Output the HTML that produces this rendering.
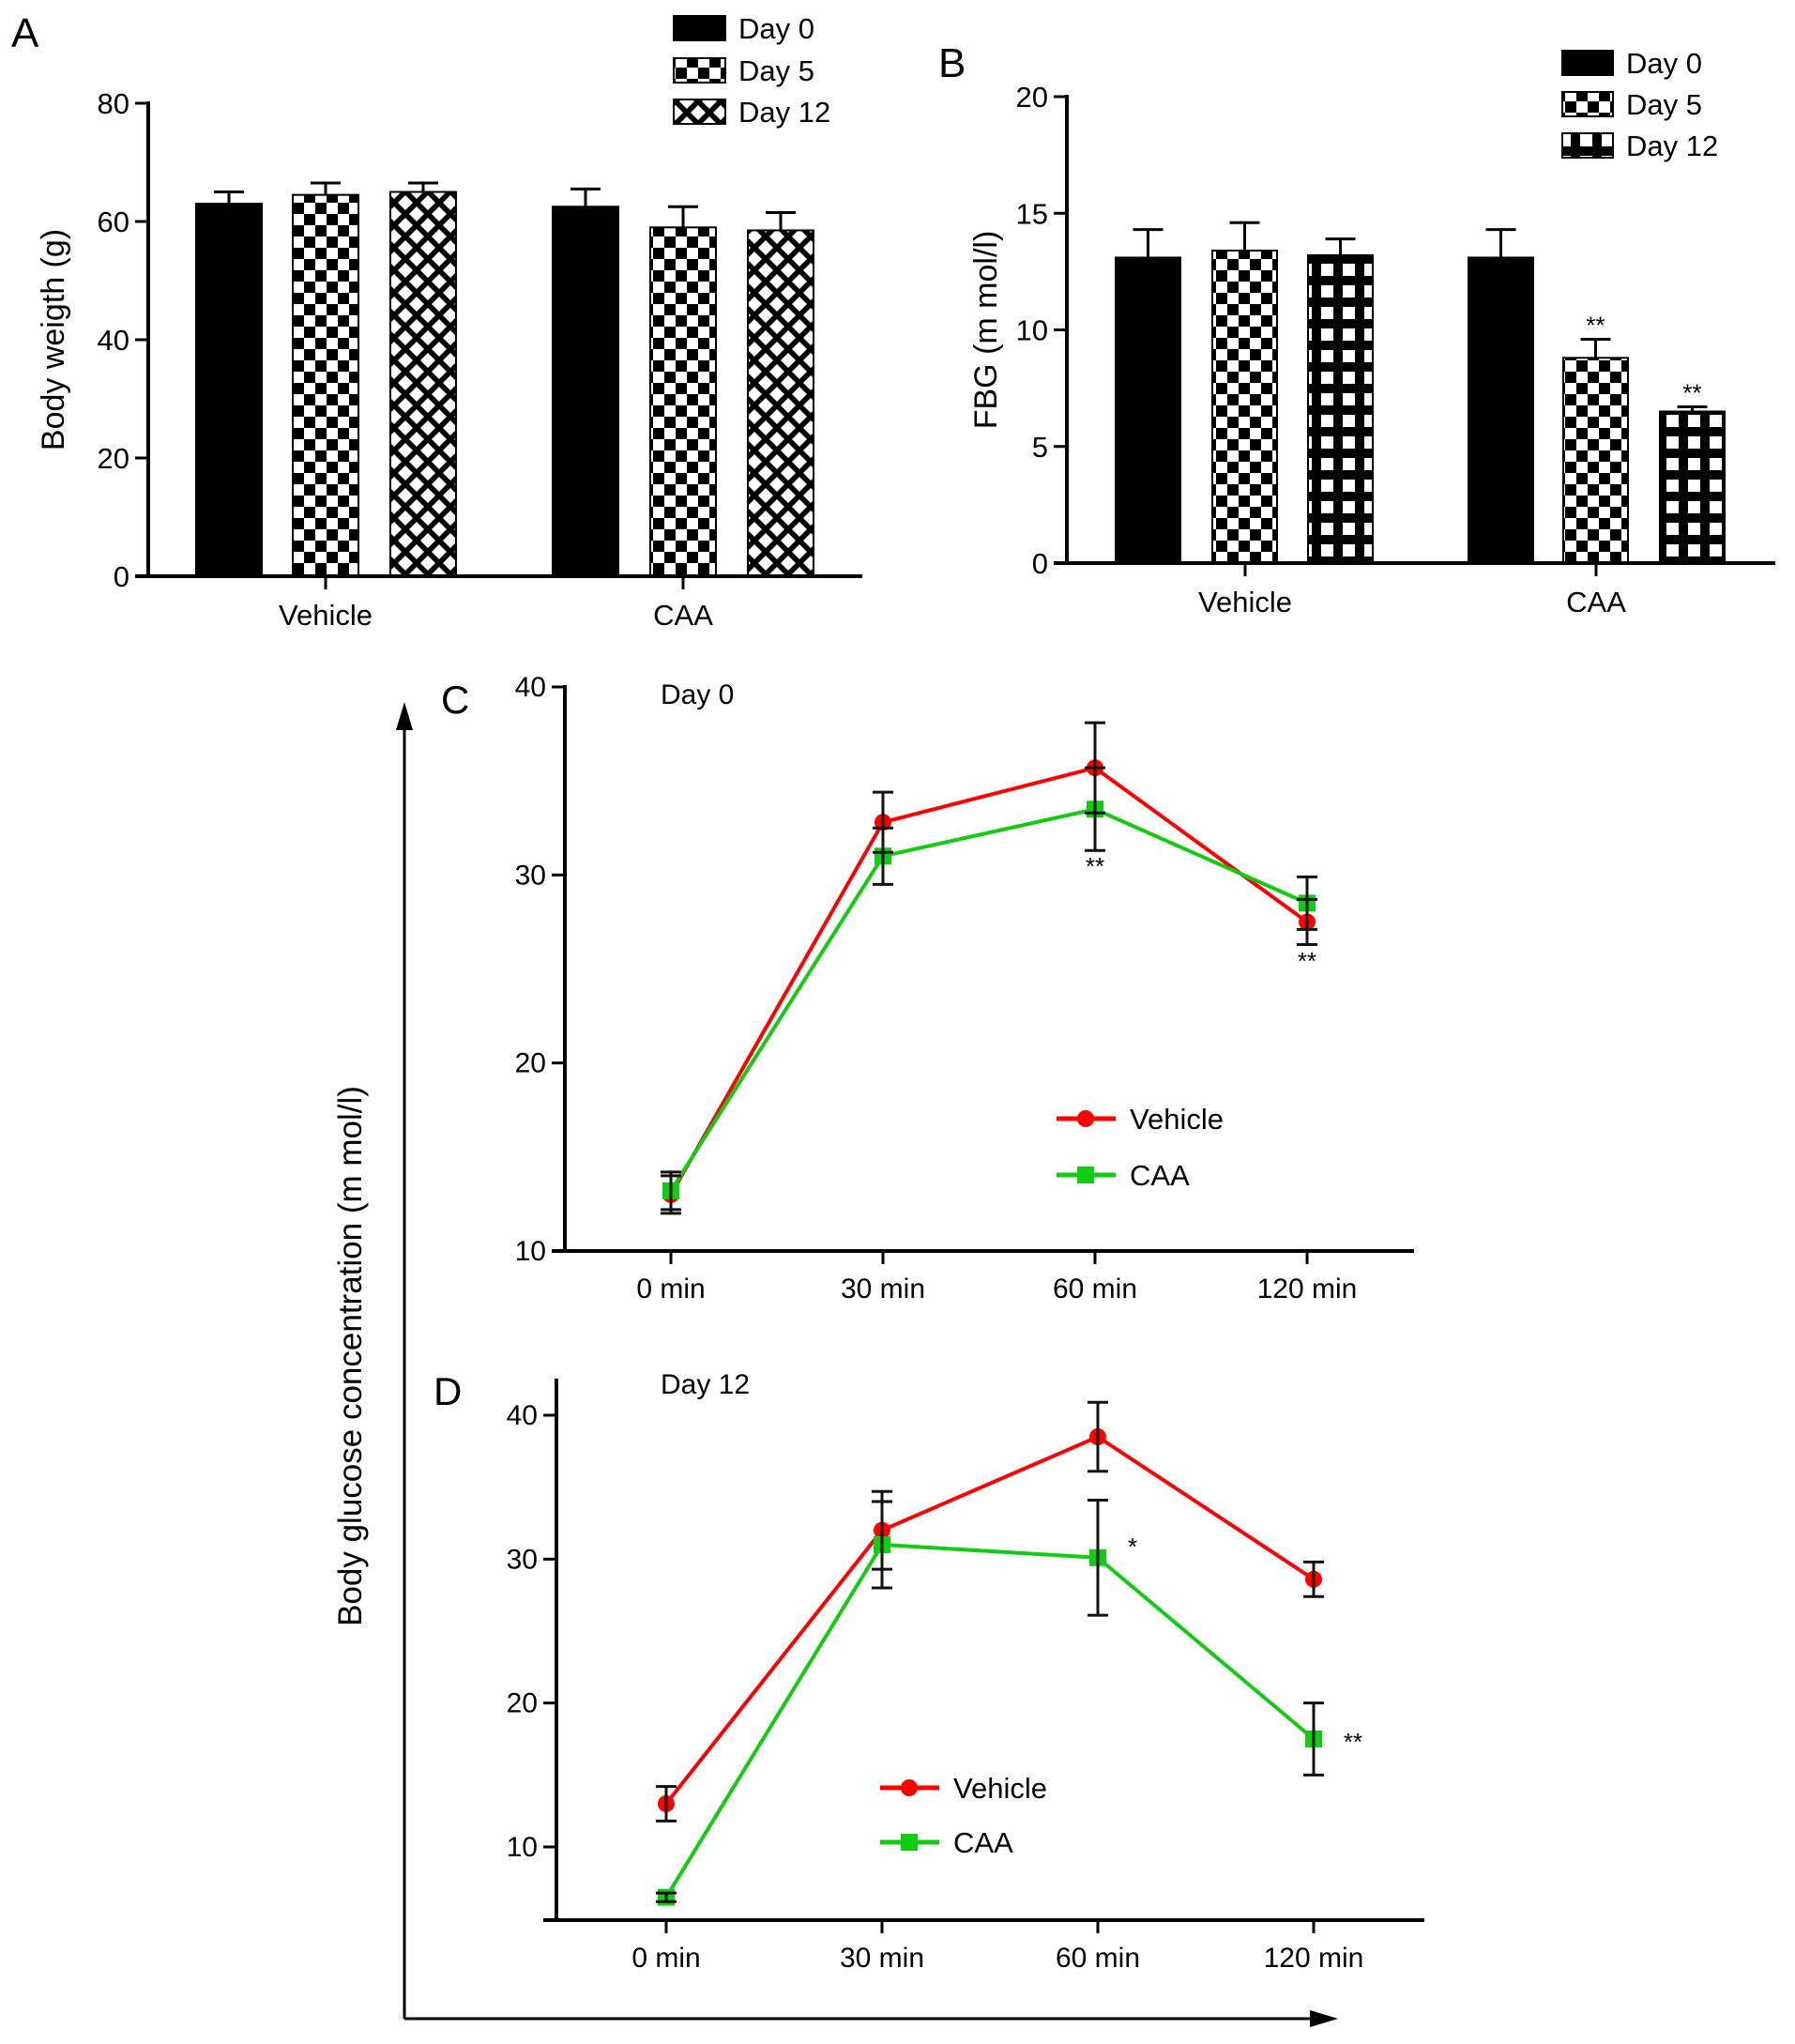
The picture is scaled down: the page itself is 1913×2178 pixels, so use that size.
<!DOCTYPE html>
<html><head><meta charset="utf-8">
<style>
html,body{margin:0;padding:0;background:#fff;}
svg{display:block;font-family:"Liberation Sans",Arial,sans-serif;}
</style></head>
<body>
<svg id="fig" width="1913" height="2178" viewBox="0 0 1913 2178" xmlns="http://www.w3.org/2000/svg">
<defs>
<pattern id="chk" width="24" height="24" patternUnits="userSpaceOnUse">
<rect width="24" height="24" fill="#fff"/><rect width="12" height="12" fill="#000"/><rect x="12" y="12" width="12" height="12" fill="#000"/>
</pattern>
<pattern id="diam" width="24" height="24" patternUnits="userSpaceOnUse">
<rect width="24" height="24" fill="#000"/><polygon points="12,4 20,12 12,20 4,12" fill="#fff"/><polygon points="0,-8 8,0 0,8 -8,0" fill="#fff"/><polygon points="24,-8 32,0 24,8 16,0" fill="#fff"/><polygon points="0,16 8,24 0,32 -8,24" fill="#fff"/><polygon points="24,16 32,24 24,32 16,24" fill="#fff"/>
</pattern>
<pattern id="grid" width="23" height="23" patternUnits="userSpaceOnUse">
<rect width="23" height="23" fill="#000"/><rect x="5" y="5" width="13" height="13" fill="#fff"/>
</pattern>
</defs>
<g id="root"></g>
</svg>
<script>
// Panel A data
const aGroups = ["Vehicle","CAA"];
const aSeries = ["Day 0","Day 5","Day 12"];
const aValues = [[63,64.5,65],[62.5,59,58.5]];
const aErrors = [[2,2,1.5],[3,3.5,3]];
const aTicks = [0,20,40,60,80];
// Panel B data
const bGroups = ["Vehicle","CAA"];
const bSeries = ["Day 0","Day 5","Day 12"];
const bValues = [[13.1,13.4,13.2],[13.1,8.8,6.5]];
const bErrors = [[1.2,1.2,0.7],[1.2,0.8,0.2]];
const bStars = [["","",""],["","**","**"]];
const bTicks = [0,5,10,15,20];
// Panel C data
const cCats = ["0 min","30 min","60 min","120 min"];
const cVehicle = [13,32.8,35.7,27.5];
const cVehicleErr = [1,1.6,2.4,1.2];
const cCAA = [13.2,31,33.5,28.5];
const cCAAErr = [1,1.5,2.2,1.4];
const cTicks = [10,20,30,40];
// Panel D data
const dCats = ["0 min","30 min","60 min","120 min"];
const dVehicle = [13,32,38.5,28.6];
const dVehicleErr = [1.2,2.7,2.4,1.2];
const dCAA = [6.5,31,30.1,17.5];
const dCAAErr = [0.3,3,4,2.5];
const dTicks = [10,20,30,40];

const NS="http://www.w3.org/2000/svg";
const root=document.getElementById('root');
function mk(tag,attrs,parent,text){const e=document.createElementNS(NS,tag);for(const k in attrs)e.setAttribute(k,attrs[k]);if(text!==undefined)e.textContent=text;(parent||root).appendChild(e);return e;}

function barPanel(o){
  const g=mk('g',{});
  
  
  const y=v=>o.y0-(v-o.min)/(o.max-o.min)*(o.y0-o.y1);
  const fills=['#000','url(#chk)',o.p3];
  o.values.forEach((grp,gi)=>grp.forEach((v,si)=>{
    const x=o.barX[gi][si];
    const r=mk('rect',{x:x,y:y(v),width:o.bw,height:o.y0-y(v),fill:fills[si],stroke:'#000','stroke-width':2},g);
    
    
    const cx=x+o.bw/2,ye=y(v+o.errors[gi][si]);
    mk('line',{x1:cx,x2:cx,y1:y(v),y2:ye,stroke:'#000','stroke-width':3},g);
    mk('line',{x1:cx-16,x2:cx+16,y1:ye,y2:ye,stroke:'#000','stroke-width':3},g);
    if(o.stars&&o.stars[gi][si]){const t=mk('text',{x:cx,y:ye-6,'text-anchor':'middle','font-size':26},g,o.stars[gi][si]);}
  }));
  mk('line',{x1:o.ax,x2:o.ax,y1:o.y1-2,y2:o.y0,stroke:'#000','stroke-width':4},g);
  mk('line',{x1:o.ax-14,x2:o.xend,y1:o.y0,y2:o.y0,stroke:'#000','stroke-width':4},g);
  o.ticks.forEach(t=>{mk('line',{x1:o.ax-14,x2:o.ax,y1:y(t),y2:y(t),stroke:'#000','stroke-width':3},g);
    const tl=mk('text',{x:o.ax-20,y:y(t)+11,'text-anchor':'end','font-size':31},g,String(t));});
  o.groups.forEach((gname,gi)=>{const cx=o.groupX[gi];mk('line',{x1:cx,x2:cx,y1:o.y0,y2:o.y0+14,stroke:'#000','stroke-width':3},g);
    const t=mk('text',{x:cx,y:o.y0+52,'text-anchor':'middle','font-size':31},g,gname);});
  const yl=mk('text',{x:0,y:0,transform:`translate(${o.ylx},${(o.y0+o.y1)/2}) rotate(-90)`,'text-anchor':'middle','font-size':34},g,o.ylabel);
  
  const L=mk('text',{x:o.lbl[0],y:o.lbl[1],'font-size':44},g,o.letter);
  o.series.forEach((s,si)=>{const ly=o.legY[si];
    const lg=mk('g',{},g);
    mk('rect',{x:o.legX,y:ly-13,width:o.legW,height:26,fill:fills[si],stroke:'#000','stroke-width':2},lg);
    mk('text',{x:o.legX+o.legW+14,y:ly+11,'font-size':31},lg,s);});
}
barPanel({name:'panel-a-body-weight',values:aValues,errors:aErrors,groups:aGroups,series:aSeries,ticks:aTicks,min:0,max:80,y0:614,y1:110,ax:158,xend:919,
  barX:[[209,312,416],[589,693,797]],bw:70,groupX:[347,728],p3:'url(#diam)',ylabel:'Body weigth (g)',ylx:68,letter:'A',lbl:[12,50],
  legX:718,legW:55,legY:[30,75,119]});
barPanel({name:'panel-b-fbg',values:bValues,errors:bErrors,stars:bStars,groups:bGroups,series:bSeries,ticks:bTicks,min:0,max:20,y0:600,y1:103,ax:1137,xend:1892,
  barX:[[1189,1292,1394],[1565,1666,1769]],bw:69,groupX:[1327,1701],p3:'url(#grid)',ylabel:'FBG (m mol/l)',ylx:1062,letter:'B',lbl:[1000,82],
  legX:1665,legW:54,legY:[67,111,155]});

function linePanel(o){
  const g=mk('g',{});
  
  
  const y=v=>o.yb-(v-o.min)/(o.max-o.min)*(o.yb-o.yt);
  const x=i=>o.xs[0]+i*(o.xs[1]-o.xs[0])/ (o.cats.length-1);
  mk('line',{x1:o.ax,x2:o.ax,y1:o.axTop,y2:o.axBot,stroke:'#000','stroke-width':4},g);
  mk('line',{x1:o.ax-14,x2:o.xend,y1:o.axBot,y2:o.axBot,stroke:'#000','stroke-width':4},g);
  o.ticks.forEach(t=>{mk('line',{x1:o.ax-14,x2:o.ax,y1:y(t),y2:y(t),stroke:'#000','stroke-width':3},g);
    const tl=mk('text',{x:o.ax-20,y:y(t)+10,'text-anchor':'end','font-size':30},g,String(t));});
  o.cats.forEach((c,i)=>{mk('line',{x1:x(i),x2:x(i),y1:o.axBot,y2:o.axBot+14,stroke:'#000','stroke-width':3},g);
    const t=mk('text',{x:x(i),y:o.axBot+50,'text-anchor':'middle','font-size':30},g,c);});
  const series=[{v:o.veh,e:o.vehE,c:'#f00',n:'vehicle'},{v:o.caa,e:o.caaE,c:'#1c1',n:'caa'}];
  series.forEach(s=>{
    const pl=mk('polyline',{points:s.v.map((v,i)=>x(i)+','+y(v)).join(' '),fill:'none',stroke:s.c,'stroke-width':4},g);
    
    s.v.forEach((v,i)=>{
      if(s.n==='vehicle'){const m=mk('circle',{cx:x(i),cy:y(v),r:9,fill:s.c},g);}
      else{const m=mk('rect',{x:x(i)-9,y:y(v)-9,width:18,height:18,fill:s.c},g);}
    });
  });
  series.forEach(s=>s.v.forEach((v,i)=>{const a=y(v+s.e[i]),b=y(v-s.e[i]),cx=x(i);
    mk('line',{x1:cx,x2:cx,y1:a,y2:b,stroke:'#111','stroke-width':3},g);
    mk('line',{x1:cx-11,x2:cx+11,y1:a,y2:a,stroke:'#111','stroke-width':3},g);
    mk('line',{x1:cx-11,x2:cx+11,y1:b,y2:b,stroke:'#111','stroke-width':3},g);}));
  o.stars.forEach(s=>{const t=mk('text',{x:s[0],y:s[1],'text-anchor':'middle','font-size':26},g,s[2]);});
  const L=mk('text',{x:o.lbl[0],y:o.lbl[1],'font-size':42},g,o.letter);
  const d=mk('text',{x:o.day[0],y:o.day[1],'font-size':30},g,o.dayText);
  [['Vehicle','#f00',0],['CAA','#1c1',1]].forEach(([n,c,k])=>{const ly=o.leg[1]+k*o.legGap;
    const lg=mk('g',{},g);
    mk('line',{x1:o.leg[0],x2:o.leg[0]+63,y1:ly,y2:ly,stroke:c,'stroke-width':5},lg);
    if(k===0)mk('circle',{cx:o.leg[0]+31,cy:ly,r:9,fill:c},lg);else mk('rect',{x:o.leg[0]+22,y:ly-9,width:18,height:18,fill:c},lg);
    mk('text',{x:o.leg[0]+78,y:ly+11,'font-size':31},lg,n);});
}
linePanel({name:'panel-c-day0',cats:cCats,veh:cVehicle,vehE:cVehicleErr,caa:cCAA,caaE:cCAAErr,ticks:cTicks,min:10,max:40,yb:1333,yt:732,
  ax:602,axTop:730,axBot:1333,xend:1507,xs:[715,1393],letter:'C',lbl:[470,760],day:[704,750],dayText:'Day 0',
  leg:[1126,1192],legGap:60,stars:[[1167,932,'**'],[1393,1033,'**']]});
linePanel({name:'panel-d-day12',cats:dCats,veh:dVehicle,vehE:dVehicleErr,caa:dCAA,caaE:dCAAErr,ticks:dTicks,min:10,max:40,yb:1968,yt:1508,
  ax:593,axTop:1469,axBot:2046,xend:1518,xs:[710,1400],letter:'D',lbl:[462,1497],day:[704,1485],dayText:'Day 12',
  leg:[938,1905],legGap:58,stars:[[1207,1657,'*'],[1442,1865,'**']]});

// shared axis arrows
const ar=mk('g',{});
mk('line',{x1:431,x2:431,y1:2151,y2:770,stroke:'#000','stroke-width':3},ar);
mk('polygon',{points:'431,748 422,778 440,778',fill:'#000'},ar);
mk('line',{x1:431,x2:1400,y1:2151,y2:2151,stroke:'#000','stroke-width':3},ar);
mk('polygon',{points:'1426,2151 1396,2142 1396,2160',fill:'#000'},ar);
const yt=mk('text',{x:0,y:0,transform:'translate(385,1445) rotate(-90)','text-anchor':'middle','font-size':35},null,'Body glucose concentration (m mol/l)');

</script>
</body></html>
